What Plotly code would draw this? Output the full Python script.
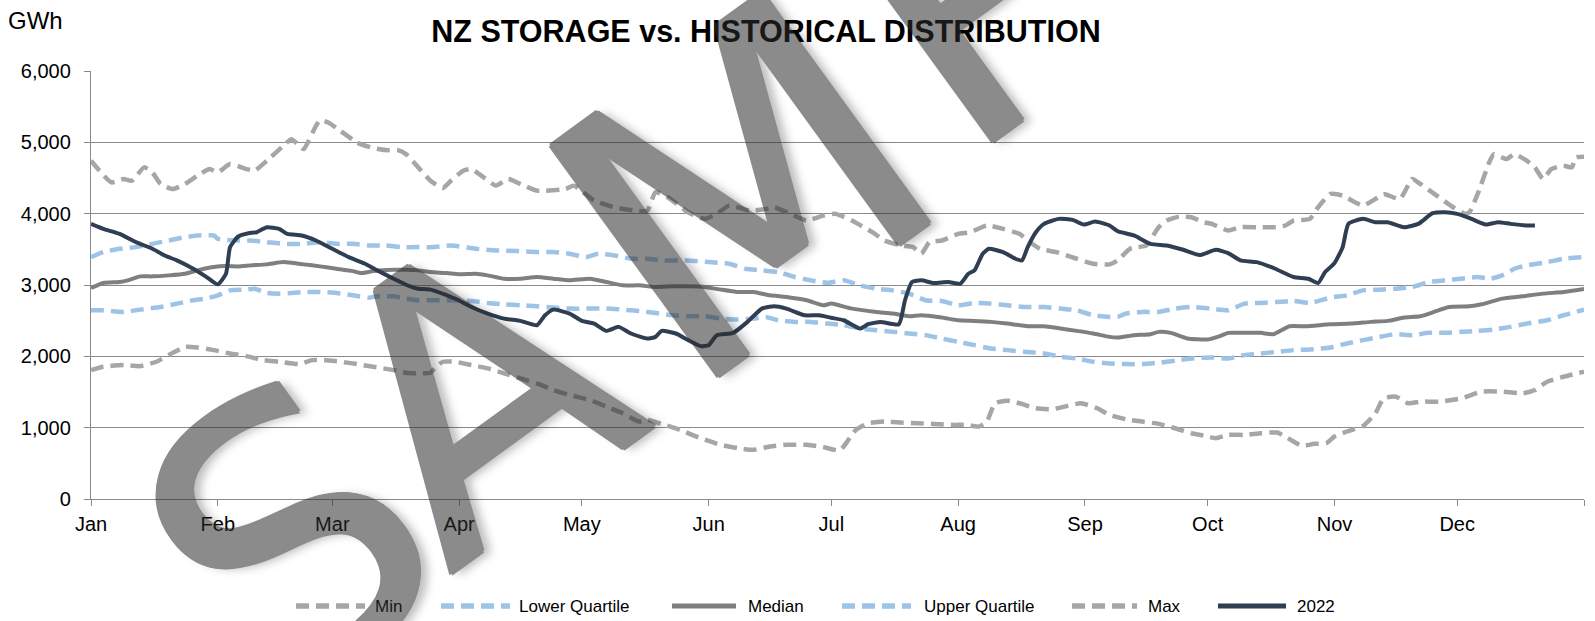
import plotly.graph_objects as go

# ---------------- data (day of year, GWh) ----------------
month_ticks = [0, 31, 59, 90, 120, 151, 181, 212, 243, 273, 304, 334, 365]
month_labels = ["Jan", "Feb", "Mar", "Apr", "May", "Jun", "Jul", "Aug", "Sep", "Oct", "Nov", "Dec", ""]

min_days = [0, 3, 8, 12, 16, 20, 23, 26, 30, 34, 38, 42, 46, 51, 54, 57, 61, 65, 69, 74, 77, 80, 83, 84, 86, 89,
            93, 97, 101, 105, 109, 113, 117, 122, 126, 130, 134, 136, 139, 144, 149, 154, 158, 162, 166, 170, 175,
            179, 183, 184, 187, 190, 194, 198, 202, 206, 211, 214, 217, 219, 221, 224, 227, 231, 235, 238, 242, 246,
            249, 253, 257, 261, 265, 269, 272, 275, 278, 282, 286, 290, 292, 294, 296, 299, 302, 304, 307, 311, 314,
            316, 319, 322, 325, 330, 335, 340, 345, 350, 353, 356, 360, 365]
min_vals = [1807, 1854, 1877, 1863, 1924, 2050, 2133, 2124, 2087, 2040, 2003, 1947, 1924, 1891, 1947, 1947, 1924,
            1891, 1854, 1807, 1770, 1761, 1770, 1831, 1924, 1924, 1877, 1831, 1761, 1691, 1621, 1528, 1458, 1388,
            1295, 1202, 1085, 1109, 1062, 969, 852, 759, 713, 689, 736, 759, 759, 727, 680, 736, 969, 1062, 1085,
            1071, 1062, 1053, 1039, 1039, 1015, 1085, 1342, 1379, 1342, 1272, 1258, 1295, 1342, 1272, 1178, 1118,
            1085, 1053, 992, 922, 890, 852, 899, 899, 922, 932, 876, 806, 745, 773, 783, 876, 946, 1025, 1202, 1411,
            1435, 1342, 1365, 1365, 1411, 1505, 1505, 1481, 1528, 1644, 1714, 1784]

lq_days = [0, 3, 8, 12, 17, 21, 25, 28, 31, 34, 38, 40, 43, 46, 49, 52, 56, 60, 64, 68, 70, 74, 77, 80, 84, 88, 93,
           97, 101, 105, 109, 113, 117, 122, 126, 130, 134, 138, 142, 146, 150, 154, 158, 162, 165, 168, 172, 176,
           180, 184, 188, 192, 196, 200, 204, 208, 212, 216, 220, 224, 228, 233, 237, 241, 245, 249, 253, 257, 261,
           265, 269, 274, 278, 282, 286, 290, 294, 298, 303, 307, 311, 315, 319, 323, 327, 331, 335, 339, 343, 347,
           351, 356, 360, 365]
lq_vals = [2646, 2646, 2623, 2655, 2692, 2739, 2786, 2809, 2855, 2925, 2935, 2948, 2888, 2879, 2888, 2902, 2902,
           2888, 2855, 2823, 2841, 2841, 2809, 2786, 2786, 2786, 2776, 2748, 2730, 2716, 2702, 2683, 2669, 2669,
           2669, 2655, 2636, 2608, 2576, 2562, 2562, 2529, 2515, 2529, 2553, 2506, 2483, 2483, 2459, 2436, 2390,
           2366, 2343, 2320, 2297, 2250, 2203, 2157, 2110, 2087, 2064, 2040, 1994, 1970, 1924, 1900, 1891, 1891,
           1910, 1938, 1970, 1984, 1970, 2017, 2040, 2064, 2087, 2096, 2124, 2180, 2227, 2273, 2310, 2297, 2329,
           2329, 2343, 2357, 2376, 2413, 2459, 2506, 2576, 2655]

med_days = [0, 3, 7, 9, 12, 15, 19, 23, 26, 30, 33, 36, 39, 43, 47, 52, 56, 60, 64, 66, 69, 74, 77, 80, 83, 87, 90,
            94, 97, 101, 105, 109, 113, 117, 122, 126, 130, 134, 138, 142, 146, 150, 154, 158, 162, 166, 170, 175,
            179, 181, 186, 192, 196, 200, 203, 208, 212, 216, 220, 224, 229, 233, 237, 241, 245, 249, 251, 255, 259,
            261, 264, 268, 273, 276, 278, 282, 286, 289, 293, 297, 303, 308, 313, 317, 321, 325, 329, 332, 337, 340,
            345, 350, 355, 360, 365]
med_vals = [2958, 3028, 3042, 3065, 3121, 3121, 3135, 3158, 3205, 3251, 3265, 3261, 3275, 3289, 3321, 3289, 3261,
            3228, 3195, 3167, 3195, 3214, 3214, 3205, 3181, 3167, 3150, 3158, 3135, 3088, 3088, 3112, 3088, 3065,
            3088, 3042, 2995, 2995, 2972, 2981, 2981, 2972, 2935, 2902, 2902, 2855, 2832, 2786, 2716, 2739, 2669,
            2623, 2599, 2562, 2576, 2543, 2506, 2497, 2483, 2459, 2422, 2422, 2390, 2357, 2320, 2273, 2264, 2297,
            2310, 2343, 2329, 2250, 2236, 2283, 2329, 2329, 2329, 2310, 2422, 2422, 2450, 2459, 2483, 2497, 2543,
            2562, 2636, 2692, 2702, 2730, 2809, 2841, 2879, 2902, 2944]

uq_days = [0, 3, 7, 11, 15, 19, 23, 26, 30, 31, 35, 39, 43, 47, 52, 56, 60, 64, 68, 72, 76, 80, 84, 88, 94, 99, 104,
           109, 113, 117, 121, 124, 128, 132, 136, 140, 146, 151, 156, 160, 164, 168, 172, 176, 180, 184, 188, 192,
           196, 200, 204, 208, 212, 216, 220, 224, 228, 233, 237, 241, 245, 249, 251, 253, 257, 261, 265, 269, 274,
           278, 282, 286, 290, 294, 298, 303, 307, 311, 315, 319, 323, 327, 331, 335, 339, 342, 345, 348, 351, 356,
           360, 365]
uq_vals = [3391, 3461, 3508, 3531, 3577, 3624, 3671, 3694, 3694, 3647, 3624, 3624, 3601, 3577, 3577, 3601, 3577,
           3577, 3554, 3554, 3531, 3531, 3531, 3554, 3508, 3484, 3475, 3461, 3461, 3438, 3391, 3438, 3414, 3368,
           3368, 3345, 3345, 3321, 3298, 3228, 3205, 3181, 3112, 3065, 3030, 3065, 2995, 2948, 2925, 2879, 2786,
           2776, 2716, 2748, 2739, 2716, 2692, 2692, 2669, 2646, 2576, 2553, 2553, 2599, 2623, 2623, 2669, 2692,
           2669, 2646, 2739, 2748, 2762, 2776, 2748, 2823, 2855, 2925, 2935, 2948, 2972, 3042, 3065, 3088, 3112,
           3088, 3135, 3228, 3275, 3321, 3368, 3391]

max_days = [0, 5, 8, 10, 13, 15, 17, 20, 23, 26, 29, 31, 34, 38, 40, 43, 47, 49, 51, 52, 55, 56, 58, 61, 65, 69,
            72, 75, 77, 80, 83, 86, 88, 91, 93, 96, 99, 102, 105, 109, 116, 118, 123, 128, 133, 136, 138, 141, 146,
            150, 153, 156, 161, 165, 167, 171, 175, 179, 182, 186, 191, 194, 198, 201, 203, 205, 208, 212, 215, 219,
            223, 227, 229, 232, 236, 241, 245, 249, 251, 254, 256, 258, 261, 263, 266, 269, 272, 274, 278, 281, 285,
            290, 292, 294, 298, 300, 303, 306, 309, 311, 314, 316, 320, 323, 325, 329, 333, 336, 337, 339, 342, 343,
            346, 348, 351, 353, 355, 357, 360, 362, 363, 365]
max_vals = [4742, 4439, 4486, 4462, 4649, 4579, 4416, 4346, 4416, 4532, 4625, 4579, 4695, 4625, 4602, 4742, 4951,
            5044, 4951, 4905, 5231, 5310, 5277, 5161, 4998, 4919, 4891, 4891, 4835, 4649, 4462, 4360, 4462, 4602,
            4625, 4509, 4393, 4486, 4416, 4323, 4346, 4393, 4183, 4090, 4043, 4043, 4299, 4230, 4020, 3927, 3997,
            4113, 4043, 4066, 4090, 3997, 3903, 3973, 3997, 3903, 3740, 3624, 3554, 3531, 3438, 3601, 3624, 3717,
            3740, 3834, 3787, 3717, 3624, 3508, 3461, 3368, 3298, 3289, 3345, 3508, 3531, 3554, 3810, 3903, 3959,
            3950, 3880, 3857, 3764, 3810, 3810, 3810, 3834, 3903, 3927, 4090, 4276, 4253, 4160, 4113, 4206, 4276,
            4206, 4486, 4416, 4253, 4090, 3997, 4020, 4276, 4742, 4835, 4765, 4835, 4742, 4649, 4486, 4625, 4672,
            4649, 4788, 4798]

y2022_days = [0, 3, 7, 11, 15, 18, 21, 25, 28, 31, 33, 34, 36, 38.5, 40.5, 43, 46, 48, 51.5, 55, 59, 63, 67, 70, 74,
              78, 80, 83, 87, 89, 93, 97, 101, 105, 109, 111, 113, 117, 120, 123, 126, 129, 132, 136, 138, 139.5,
              143, 146, 149, 151, 153, 157, 160.5, 164, 167, 170, 174.5, 178, 181, 184, 188, 190, 193, 197.5, 199,
              200.7, 203, 206, 209.6, 212.5, 214.5, 216, 218, 219.5, 223, 226, 227.6, 229, 231, 233, 236.6, 240,
              242.7, 245.5, 249, 251, 255, 259, 263, 267, 271, 275, 278, 281, 285, 289.5, 294, 297.6, 300, 301.7,
              304, 306, 307.4, 311, 314, 317, 321, 324.5, 328, 331, 334, 337.5, 341, 344, 347, 351, 353]
y2022_vals = [3857, 3787, 3717, 3601, 3508, 3414, 3345, 3228, 3121, 3009, 3158, 3531, 3680, 3726, 3740, 3810, 3787,
              3717, 3694, 3624, 3508, 3391, 3298, 3205, 3088, 2981, 2948, 2935, 2855, 2810, 2692, 2599, 2529, 2497,
              2436, 2576, 2655, 2599, 2497, 2459, 2357, 2413, 2320, 2250, 2273, 2357, 2320, 2227, 2143, 2157, 2296,
              2329, 2483, 2669, 2702, 2669, 2576, 2576, 2540, 2506, 2390, 2450, 2483, 2450, 2786, 3042, 3065, 3028,
              3042, 3018, 3158, 3205, 3438, 3508, 3461, 3368, 3345, 3531, 3740, 3857, 3927, 3913, 3847, 3889, 3834,
              3754, 3694, 3577, 3554, 3494, 3420, 3494, 3447, 3345, 3321, 3228, 3112, 3088, 3028, 3181, 3307, 3531,
              3857, 3927, 3880, 3880, 3810, 3857, 4006, 4020, 3997, 3927, 3847, 3880, 3857, 3834, 3834]

series_names = ["Min", "Lower Quartile", "Median", "Upper Quartile", "Max", "2022"]
watermark_letters = ["S", "A", "M", "P"]

# ---------------- figure ----------------
W, H = 1595, 621
L, R, T, B = 91, 11, 71, 122
pw, ph = W - L - R, H - T - B


def px(x):
    return (x - L) / pw


def py(y):
    return (H - B - y) / ph


GREY_DASH = "#A6A6A6"
BLUE_DASH = "#9DC3E6"
MED = "#7F7F7F"
NAVY = "#2F3E52"
GRID = "#8A8A8A"
DASH = "13px,7px"

styles = [
    (GREY_DASH, DASH, 4.5),
    (BLUE_DASH, DASH, 4.5),
    (MED, "solid", 4),
    (BLUE_DASH, DASH, 4.5),
    (GREY_DASH, DASH, 4.5),
    (NAVY, "solid", 4),
]
data = [(min_days, min_vals), (lq_days, lq_vals), (med_days, med_vals),
        (uq_days, uq_vals), (max_days, max_vals), (y2022_days, y2022_vals)]

fig = go.Figure()
for name, (xs, ys), (col, dash, w) in zip(series_names, data, styles):
    fig.add_trace(go.Scatter(x=xs, y=ys, name=name, mode="lines", showlegend=False,
                             line=dict(color=col, width=w, dash=dash, shape="spline", smoothing=0.5),
                             hoverinfo="skip"))

fig.update_layout(
    template="none",
    width=W, height=H,
    margin=dict(l=L, r=R, t=T, b=B, autoexpand=False),
    paper_bgcolor="white", plot_bgcolor="white",
    font=dict(family="Liberation Sans, Arial, sans-serif", color="black"),
    title=dict(text="<b>NZ STORAGE vs. HISTORICAL DISTRIBUTION</b>",
               font=dict(family="Liberation Sans, Arial", size=30.5, color="black"),
               x=766 / W, xanchor="center", xref="container",
               y=1 - 31 / H, yanchor="middle", yref="container"),
    showlegend=False,
    xaxis=dict(range=[0, 365], tickvals=month_ticks, ticktext=month_labels, automargin=False,
               showgrid=False, zeroline=False, showline=True, linecolor=GRID, linewidth=1.3,
               ticks="outside", ticklen=6, tickcolor=GRID, tickwidth=1.3,
               tickfont=dict(size=20, color="black"), ticklabelstandoff=1, fixedrange=True),
    yaxis=dict(range=[0, 6000], dtick=1000, tickformat=",", showgrid=True, gridcolor=GRID, automargin=False,
               gridwidth=1.3, zeroline=False, showline=True, linecolor=GRID, linewidth=1.3,
               ticks="outside", ticklen=6, tickcolor=GRID, tickwidth=1.3,
               tickfont=dict(size=20, color="black"), ticklabelstandoff=9, fixedrange=True),
)

fig.add_annotation(text="GWh", x=px(6), xanchor="left", y=py(21), yanchor="middle",
                   xref="paper", yref="paper", showarrow=False,
                   font=dict(size=24, color="black"))

# custom legend (symbol start, symbol end, text start) in pixels
leg_y = 606
leg_pos = [(296, 365, 373), (441, 510, 517), (672, 736, 746),
           (842, 911, 922), (1072, 1137, 1146), (1218, 1286, 1295)]
for name, (col, dash, w), (x0, x1, xt) in zip(series_names, styles, leg_pos):
    fig.add_shape(type="line", xref="paper", yref="paper", x0=px(x0), x1=px(x1),
                  y0=py(leg_y), y1=py(leg_y), line=dict(color=col, width=w + 1, dash=dash))
    fig.add_annotation(text=name, x=px(xt), xanchor="left", y=py(leg_y), yanchor="middle",
                       xref="paper", yref="paper", showarrow=False,
                       font=dict(size=17, color="black"))

# watermark letters (centres in pixel space, font size)
WM = "rgb(45,45,45)"
wm_shadow = (f"2px 0 0 {WM}, -2px 0 0 {WM}, 0 2px 0 {WM}, 0 -2px 0 {WM}, "
             "6px 6px 9px rgba(0,0,0,0.45)")
wm_pos = [(290, 540, 377), (476, 394, 377), (744, 190, 392), (978, -8, 377)]
for ch, (cx, cy, fs) in zip(watermark_letters, wm_pos):
    fig.add_annotation(text=ch, x=px(cx), y=py(cy), xref="paper", yref="paper",
                       xanchor="center", yanchor="middle", showarrow=False, textangle=-36,
                       opacity=0.55,
                       font=dict(family="DejaVu Sans", size=fs, color=WM, shadow=wm_shadow))

fig.write_html("out.html", config={"displayModeBar": False},
               post_script="document.body.style.margin='0';document.body.style.overflow='hidden';")
